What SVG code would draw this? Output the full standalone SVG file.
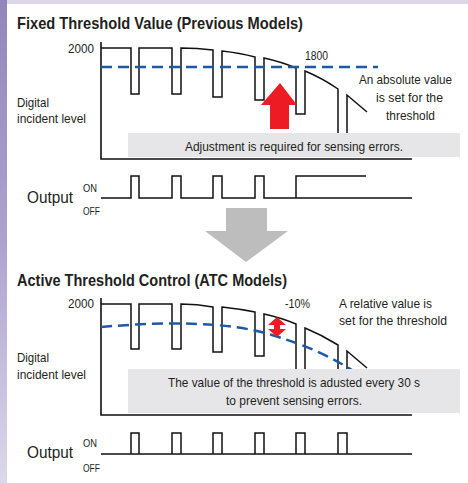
<svg xmlns="http://www.w3.org/2000/svg" width="468" height="483" viewBox="0 0 468 483">
<defs>
<linearGradient id="strip" x1="0" y1="0" x2="0" y2="1">
<stop offset="0" stop-color="#9385bb"/>
<stop offset="0.5" stop-color="#ada2cf"/>
<stop offset="1" stop-color="#dcd8ea"/>
</linearGradient>
<style>
text{font-family:"Liberation Sans",Arial,sans-serif;fill:#231f20;}
.title{font-size:16.5px;font-weight:bold;}
.lbl{font-size:13.5px;}
.small{font-size:11px;}
.out{font-size:16.5px;}
.wave{fill:none;stroke:#111;stroke-width:1.5;stroke-linejoin:miter;}
.axis{fill:none;stroke:#111;stroke-width:1.6;}
.dash{fill:none;stroke:#1d5aa6;stroke-width:2.5;stroke-dasharray:11 6;}
.box{fill:#e6e6e8;}
.red{fill:#ed1c24;}
</style>
</defs>
<rect x="0" y="0" width="468" height="483" fill="#ffffff"/>
<rect x="0" y="0" width="468" height="4" fill="#dad6e7"/>
<rect x="0" y="0" width="7" height="483" fill="url(#strip)"/>

<!-- Section 1 -->
<g id="title1"><text class="title" x="17" y="29" textLength="286" lengthAdjust="spacingAndGlyphs">Fixed Threshold Value (Previous Models)</text></g>
<g id="chart1">
<path class="axis" d="M101,42 V159 H412"/>
<text class="lbl" x="94" y="53" text-anchor="end" textLength="26" lengthAdjust="spacingAndGlyphs">2000</text>
<path class="wave" d="M101,48 H131 V94 H139 V48 H172 V94 H181 V48 Q197,48 213,50 V97 H222 V51 Q240,53 255,57 V100 H264 V58 Q282,62 296,68 V114 H305 V71 Q322,78 338,89 V157 M347,157 V95 L367,112"/>
<path class="dash" d="M101,67 H378"/>
<polygon class="red" points="280,83 297,105 289,105 289,129 270,129 270,105 261,105"/>
<text class="lbl" x="305" y="60" textLength="23" lengthAdjust="spacingAndGlyphs">1800</text>
<rect class="box" x="128" y="133" width="332" height="24"/>
<text class="lbl" x="185" y="151" textLength="218" lengthAdjust="spacingAndGlyphs">Adjustment is required for sensing errors.</text>
</g>
<g id="label1">
<text class="lbl" x="359" y="84" textLength="93" lengthAdjust="spacingAndGlyphs">An absolute value</text>
<text class="lbl" x="376" y="102" textLength="67" lengthAdjust="spacingAndGlyphs">is set for the</text>
<text class="lbl" x="386" y="120" textLength="49" lengthAdjust="spacingAndGlyphs">threshold</text>
</g>
<g id="ylabel1">
<text class="lbl" x="17" y="107" textLength="32" lengthAdjust="spacingAndGlyphs">Digital</text>
<text class="lbl" x="17" y="123" textLength="69" lengthAdjust="spacingAndGlyphs">incident level</text>
</g>
<g id="output1">
<text class="out" x="27" y="203" textLength="46" lengthAdjust="spacingAndGlyphs">Output</text>
<text class="small" x="83" y="192" textLength="14" lengthAdjust="spacingAndGlyphs">ON</text>
<text class="small" x="83" y="215" textLength="17" lengthAdjust="spacingAndGlyphs">OFF</text>
<path class="wave" d="M101,198 H131 V176 H139 V198 H172 V176 H181 V198 H213 V176 H222 V198 H255 V176 H264 V198 H412 M296,198 V176 H366"/>
</g>

<!-- transition arrow -->
<g id="downarrow"><polygon fill="#bdbdbd" points="226,208 267,208 267,231 288,231 246,262 205,231 226,231"/></g>

<!-- Section 2 -->
<g id="title2"><text class="title" x="17" y="286" textLength="270" lengthAdjust="spacingAndGlyphs">Active Threshold Control (ATC Models)</text></g>
<g id="chart2">
<path class="axis" d="M101,298 V415 H412"/>
<text class="lbl" x="94" y="308" text-anchor="end" textLength="26" lengthAdjust="spacingAndGlyphs">2000</text>
<path class="wave" d="M101,304 H131 V349 H139 V304 H172 V349 H181 V304 Q197,304 213,307 V352 H222 V307 Q240,309 255,312 V356 H264 V314 Q282,318 296,324 V413 M305,413 V328 Q322,335 338,345 V413 M347,413 V351 L367,368"/>
<path class="dash" d="M101,327 C170,321 230,322 272,335 S330,357 352,370"/>
<polygon class="red" points="277,317 286,325 280,325 280,329 286,329 277,337 268,329 274,329 274,325 268,325"/>
<text class="lbl" x="285" y="308" textLength="25" lengthAdjust="spacingAndGlyphs">-10%</text>
<rect class="box" x="128" y="369" width="332" height="44"/>
<text class="lbl" x="168" y="387" textLength="252" lengthAdjust="spacingAndGlyphs">The value of the threshold is adusted every 30 s</text>
<text class="lbl" x="226" y="405" textLength="136" lengthAdjust="spacingAndGlyphs">to prevent sensing errors.</text>
</g>
<g id="label2">
<text class="lbl" x="339" y="308" textLength="93" lengthAdjust="spacingAndGlyphs">A relative value is</text>
<text class="lbl" x="339" y="325" textLength="108" lengthAdjust="spacingAndGlyphs">set for the threshold</text>
</g>
<g id="ylabel2">
<text class="lbl" x="17" y="362" textLength="32" lengthAdjust="spacingAndGlyphs">Digital</text>
<text class="lbl" x="17" y="379" textLength="69" lengthAdjust="spacingAndGlyphs">incident level</text>
</g>
<g id="output2">
<text class="out" x="27" y="458" textLength="46" lengthAdjust="spacingAndGlyphs">Output</text>
<text class="small" x="83" y="447" textLength="14" lengthAdjust="spacingAndGlyphs">ON</text>
<text class="small" x="83" y="472" textLength="17" lengthAdjust="spacingAndGlyphs">OFF</text>
<path class="wave" d="M101,454 H412 M131,454 V433 H139 V454 M172,454 V433 H181 V454 M213,454 V433 H222 V454 M255,454 V433 H264 V454 M296,454 V433 H305 V454 M338,454 V433 H347 V454"/>
</g>
</svg>
